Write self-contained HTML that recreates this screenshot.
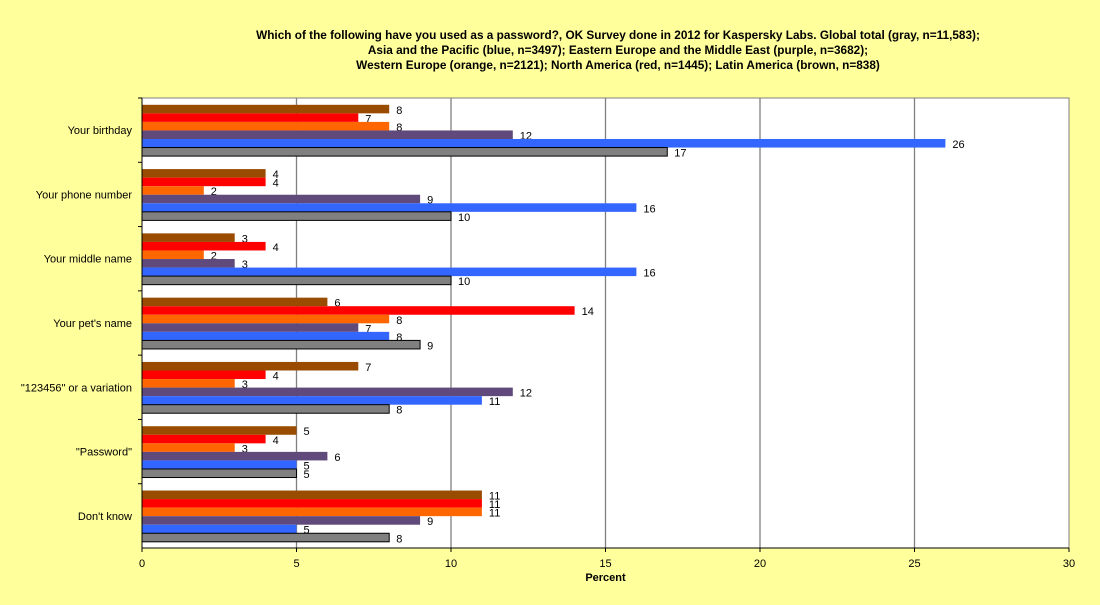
<!DOCTYPE html>
<html><head><meta charset="utf-8"><style>
body{margin:0;background:#ffff9c;font-family:"Liberation Sans",sans-serif}
</style></head><body>
<svg id="c" width="1100" height="605" style="display:block">
<rect width="1100" height="605" fill="#ffff9c"/>
<g font-weight="bold" font-size="11.8" text-anchor="middle">
<text x="618" y="39">Which of the following have you used as a password?, OK Survey done in 2012 for Kaspersky Labs. Global total (gray, n=11,583);</text>
<text x="618" y="54">Asia and the Pacific (blue, n=3497); Eastern Europe and the Middle East (purple, n=3682);</text>
<text x="618" y="69">Western Europe (orange, n=2121); North America (red, n=1445); Latin America (brown, n=838)</text>
</g>
<g id="plot"></g>
</svg>
<script>
const categories=["Your birthday","Your phone number","Your middle name","Your pet's name","\"123456\" or a variation","\"Password\"","Don't know"];
const latinAmerica=[8,4,3,6,7,5,11];
const northAmerica=[7,4,4,14,4,4,11];
const westernEurope=[8,2,2,8,3,3,11];
const easternEurope=[12,9,3,7,12,6,9];
const asiaPacific=[26,16,16,8,11,5,5];
const globalTotal=[17,10,10,9,8,5,8];
const xTicks=[0,5,10,15,20,25,30];
const seriesList=[
 {name:"latin-america",vals:latinAmerica,color:"#994c00"},
 {name:"north-america",vals:northAmerica,color:"#ff0000"},
 {name:"western-europe",vals:westernEurope,color:"#ff6600"},
 {name:"eastern-europe",vals:easternEurope,color:"#604a7b"},
 {name:"asia-pacific",vals:asiaPacific,color:"#3366ff"},
 {name:"global-total",vals:globalTotal,color:"#808080"}];
const L=142,R=1069,T=98,B=548;
const xs=v=>L+(R-L)*v/30;
const gh=(B-T)/categories.length;
const NS="http://www.w3.org/2000/svg";
const g=document.getElementById('plot');
function mk(t,a,p){const e=document.createElementNS(NS,t);for(const k in a)e.setAttribute(k,a[k]);(p||g).appendChild(e);return e;}
const bg=mk('rect',{x:L,y:T,width:R-L,height:B-T,fill:'#fff',stroke:'#808080'});


xTicks.forEach(t=>{
 if(t>0&&t<30){const l=mk('line',{x1:xs(t),x2:xs(t),y1:T,y2:B,stroke:'#808080','stroke-width':1.3});
 
 }
 const tk=mk('line',{x1:xs(t),x2:xs(t),y1:B,y2:B+4,stroke:'#000'});
 
 
 const tx=mk('text',{x:xs(t),y:B+19,'font-size':11,'text-anchor':'middle'});tx.textContent=t;
 
 
});
categories.forEach((c,i)=>{
 const y0=T+gh*i;
 const tk=mk('line',{x1:L-4,x2:L,y1:y0,y2:y0,stroke:'#000'});
 
 
 const tx=mk('text',{x:L-10,y:y0+gh/2+4,'font-size':11,'text-anchor':'end'});tx.textContent=c;
 
 
 seriesList.forEach((s,j)=>{
  const by=y0+6.8+j*8.55;
  const r=mk('rect',{x:L,y:by,width:xs(s.vals[i])-L,height:8.55,fill:s.color,stroke:j==5?'#000':'none','stroke-width':1});
  
  
  const vt=mk('text',{x:xs(s.vals[i])+7,y:by+9,'font-size':11});vt.textContent=s.vals[i];
  
  
 });
});
const ax=mk('line',{x1:L,x2:L,y1:T,y2:B,stroke:'#000'});


const ax2=mk('line',{x1:L,x2:R,y1:B,y2:B,stroke:'#000'});


const xt=mk('text',{x:(L+R)/2,y:581,'font-size':11,'font-weight':'bold','text-anchor':'middle'});xt.textContent='Percent';


</script>
</body></html>
